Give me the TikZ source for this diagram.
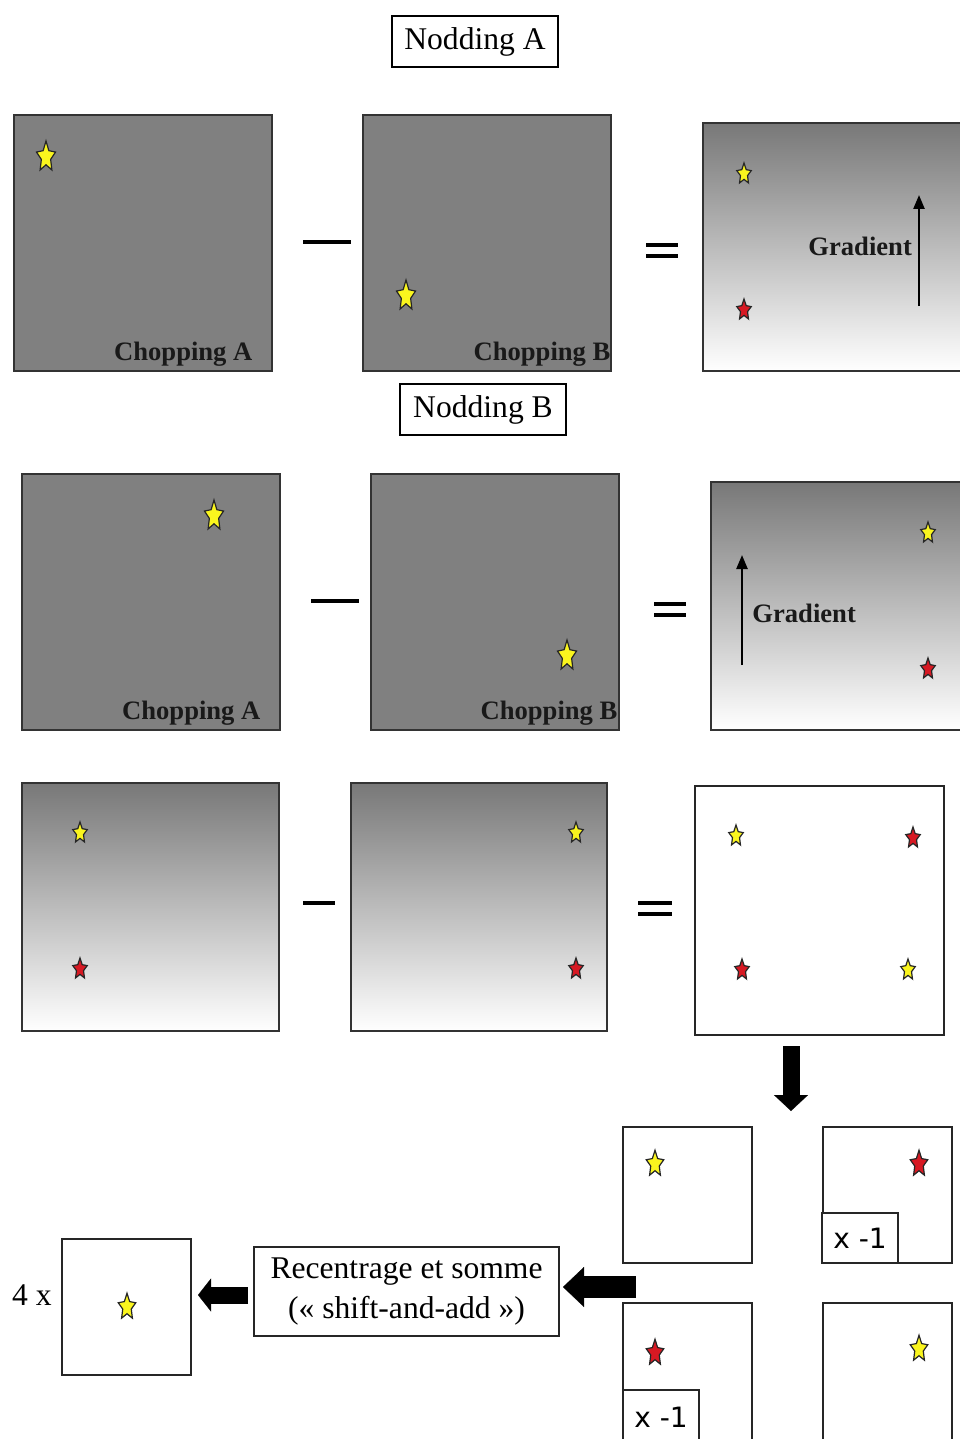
\documentclass[tikz,border=0pt]{standalone}
\usepackage{fontspec}
\setmainfont{Liberation Serif}
\newfontfamily\sansx{DejaVu Sans}
\usepackage{tikz}
\usetikzlibrary{shapes.geometric, arrows.meta, positioning, calc}
\definecolor{staryellow}{RGB}{250,245,30}
\definecolor{starred}{RGB}{215,25,35}

\begin{document}
\begin{tikzpicture}[
  x=0.5pt, y=-0.5pt,
  panel/.style={rectangle, draw=black!80, line width=0.8pt, inner sep=0pt, fill=black!50},
  gradpanel/.style={panel, top color=black!53, middle color=black!20, bottom color=white},
  whitebox/.style={rectangle, draw=black!85, line width=0.7pt, inner sep=0pt, fill=white},
  titlebox/.style={rectangle, draw, line width=1.4pt, minimum width=83pt, minimum height=25.5pt, inner sep=0pt, font=\fontsize{15.8}{19}\selectfont},
  choplbl/.style={font=\bfseries\fontsize{13.3}{16}\selectfont, text=black!90, inner sep=0pt, anchor=base east},
  gradlbl/.style={font=\bfseries\fontsize{13.3}{16}\selectfont, text=black!90, inner sep=0pt, anchor=base west},
  ystar/.style={star, star points=5, star point ratio=2.05, draw=black!85, line width=0.6pt, fill=staryellow, inner sep=0pt},
  rstar/.style={ystar, fill=starred},
  bigstar/.style={minimum size=10pt, yscale=1.6},
  midstar/.style={minimum size=9.2pt, yscale=1.5},
  smallstar/.style={minimum size=7.6pt, yscale=1.45},
  gradarrow/.style={line width=1.2pt, -{Triangle[length=7pt, width=5.5pt]}},
  minus/.style={line width=2.4pt},
  equal/.style={line width=2pt}
]
\useasboundingbox (0,0) rectangle (959,1439);

% Nodding A
\node[titlebox] (noddA) at (475,41.5) {Nodding A};
\node[panel, minimum width=129pt, minimum height=128pt] (chopA1) at (143,243) {};
\node[panel, minimum width=124pt, minimum height=128pt] (chopB1) at (487,243) {};
\node[gradpanel, minimum width=129pt, minimum height=124pt] (diff1) at (832,247) {};
\node[choplbl] (lblA1) at ($(chopA1.south east)+(-20,-11)$) {Chopping A};
\node[choplbl] (lblB1) at ($(chopB1.south east)+(-1,-11)$) {Chopping B};
\node[ystar, bigstar] (sA1) at (46,157) {};
\node[ystar, bigstar] (sB1) at (406,296) {};
\node[ystar, smallstar] (sD1a) at (744,174) {};
\node[rstar, smallstar] (sD1b) at (744,310) {};
\node[gradlbl] (grad1) at (808,256) {Gradient};
\draw[gradarrow] (919,306) -- (919,195);
\draw[minus] (303,242) -- (351,242);
\draw[equal] (646,245) -- (678,245) (646,256) -- (678,256);

% Nodding B
\node[titlebox] (noddB) at (483,409.5) {Nodding B};
\node[panel, minimum width=129pt, minimum height=128pt] (chopA2) at (151,602) {};
\node[panel, minimum width=124pt, minimum height=128pt] (chopB2) at (495,602) {};
\node[gradpanel, minimum width=129pt, minimum height=124pt] (diff2) at (840,606) {};
\node[choplbl] (lblA2) at ($(chopA2.south east)+(-20,-11)$) {Chopping A};
\node[choplbl] (lblB2) at ($(chopB2.south east)+(-2,-11)$) {Chopping B};
\node[ystar, bigstar] (sA2) at (214,516) {};
\node[ystar, bigstar] (sB2) at (567,656) {};
\node[ystar, smallstar] (sD2a) at (928,533) {};
\node[rstar, smallstar] (sD2b) at (928,669) {};
\node[gradlbl] (grad2) at (752,622) {Gradient};
\draw[gradarrow] (742,665) -- (742,555);
\draw[minus] (311,601) -- (359,601);
\draw[equal] (654,604) -- (686,604) (654,615) -- (686,615);

% A - B
\node[gradpanel, minimum width=128.5pt, minimum height=124pt] (diffA) at (150.5,907) {};
\node[gradpanel, minimum width=128pt, minimum height=124pt] (diffB) at (479,907) {};
\node[whitebox, minimum width=124.5pt, minimum height=124.5pt] (both) at (819.5,910.5) {};
\node[ystar, smallstar] (sa1) at (80,833) {};
\node[rstar, smallstar] (sa2) at (80,969) {};
\node[ystar, smallstar] (sb1) at (576,833) {};
\node[rstar, smallstar] (sb2) at (576,969) {};
\node[ystar, smallstar] (sc1) at (736,836) {};
\node[rstar, smallstar] (sc2) at (913,838) {};
\node[rstar, smallstar] (sc3) at (742,970) {};
\node[ystar, smallstar] (sc4) at (908,970) {};
\draw[minus] (303,903) -- (335,903);
\draw[equal] (638,902.5) -- (672,902.5) (638,914) -- (672,914);

% four quadrants
\node[whitebox, minimum width=64.5pt, minimum height=68pt] (quadA) at (687.5,1195) {};
\node[whitebox, minimum width=64.5pt, minimum height=68pt] (quadB) at (887.5,1195) {};
\node[whitebox, minimum width=64.5pt, minimum height=71pt] (quadC) at (687.5,1374) {};
\node[whitebox, minimum width=64.5pt, minimum height=71pt] (quadD) at (887.5,1374) {};
\node[ystar, midstar] (qsA) at (655,1164) {};
\node[rstar, midstar] (qsB) at (919,1164) {};
\node[rstar, midstar] (qsC) at (655,1353) {};
\node[ystar, midstar] (qsD) at (919,1349) {};
\node[whitebox, minimum width=38pt, minimum height=25pt, font=\sansx\fontsize{14}{16}\selectfont] (negB) at (860,1238) {x -1};
\node[whitebox, minimum width=38pt, minimum height=27pt, font=\sansx\fontsize{14}{16}\selectfont] (negC) at (661,1417) {x -1};

% shift-and-add
\node[whitebox, minimum width=152.5pt, minimum height=44.5pt, align=center, font=\fontsize{15.8}{20}\selectfont] (shiftadd) at (406.5,1291.5) {Recentrage et somme\\(« shift-and-add »)};
\node[whitebox, minimum width=64.5pt, minimum height=68pt] (result) at (126.5,1307) {};
\node[ystar, midstar] (rs) at (127,1307) {};
\node[inner sep=0pt, font=\fontsize{15.8}{19}\selectfont] (four) at (32,1295) {4 x};

% Arrows
\coordinate (downtail) at (791,1046);
\coordinate (downtip) at (791,1111);
\coordinate (lefttail) at (636,1287);
\coordinate (lefttip) at (563,1287);
\coordinate (smalltail) at (248,1295);
\coordinate (smalltip) at (198,1295);
\draw[line width=8.5pt, -{Triangle[length=8pt, width=17pt, line width=0.1pt]}] (downtail) -- (downtip);
\draw[line width=11pt, -{Triangle[length=10.5pt, width=20pt, line width=0.1pt]}] (lefttail) -- (lefttip);
\draw[line width=8.5pt, -{Triangle[length=6.5pt, width=16.5pt, line width=0.1pt]}] (smalltail) -- (smalltip);

\end{tikzpicture}
\end{document}
